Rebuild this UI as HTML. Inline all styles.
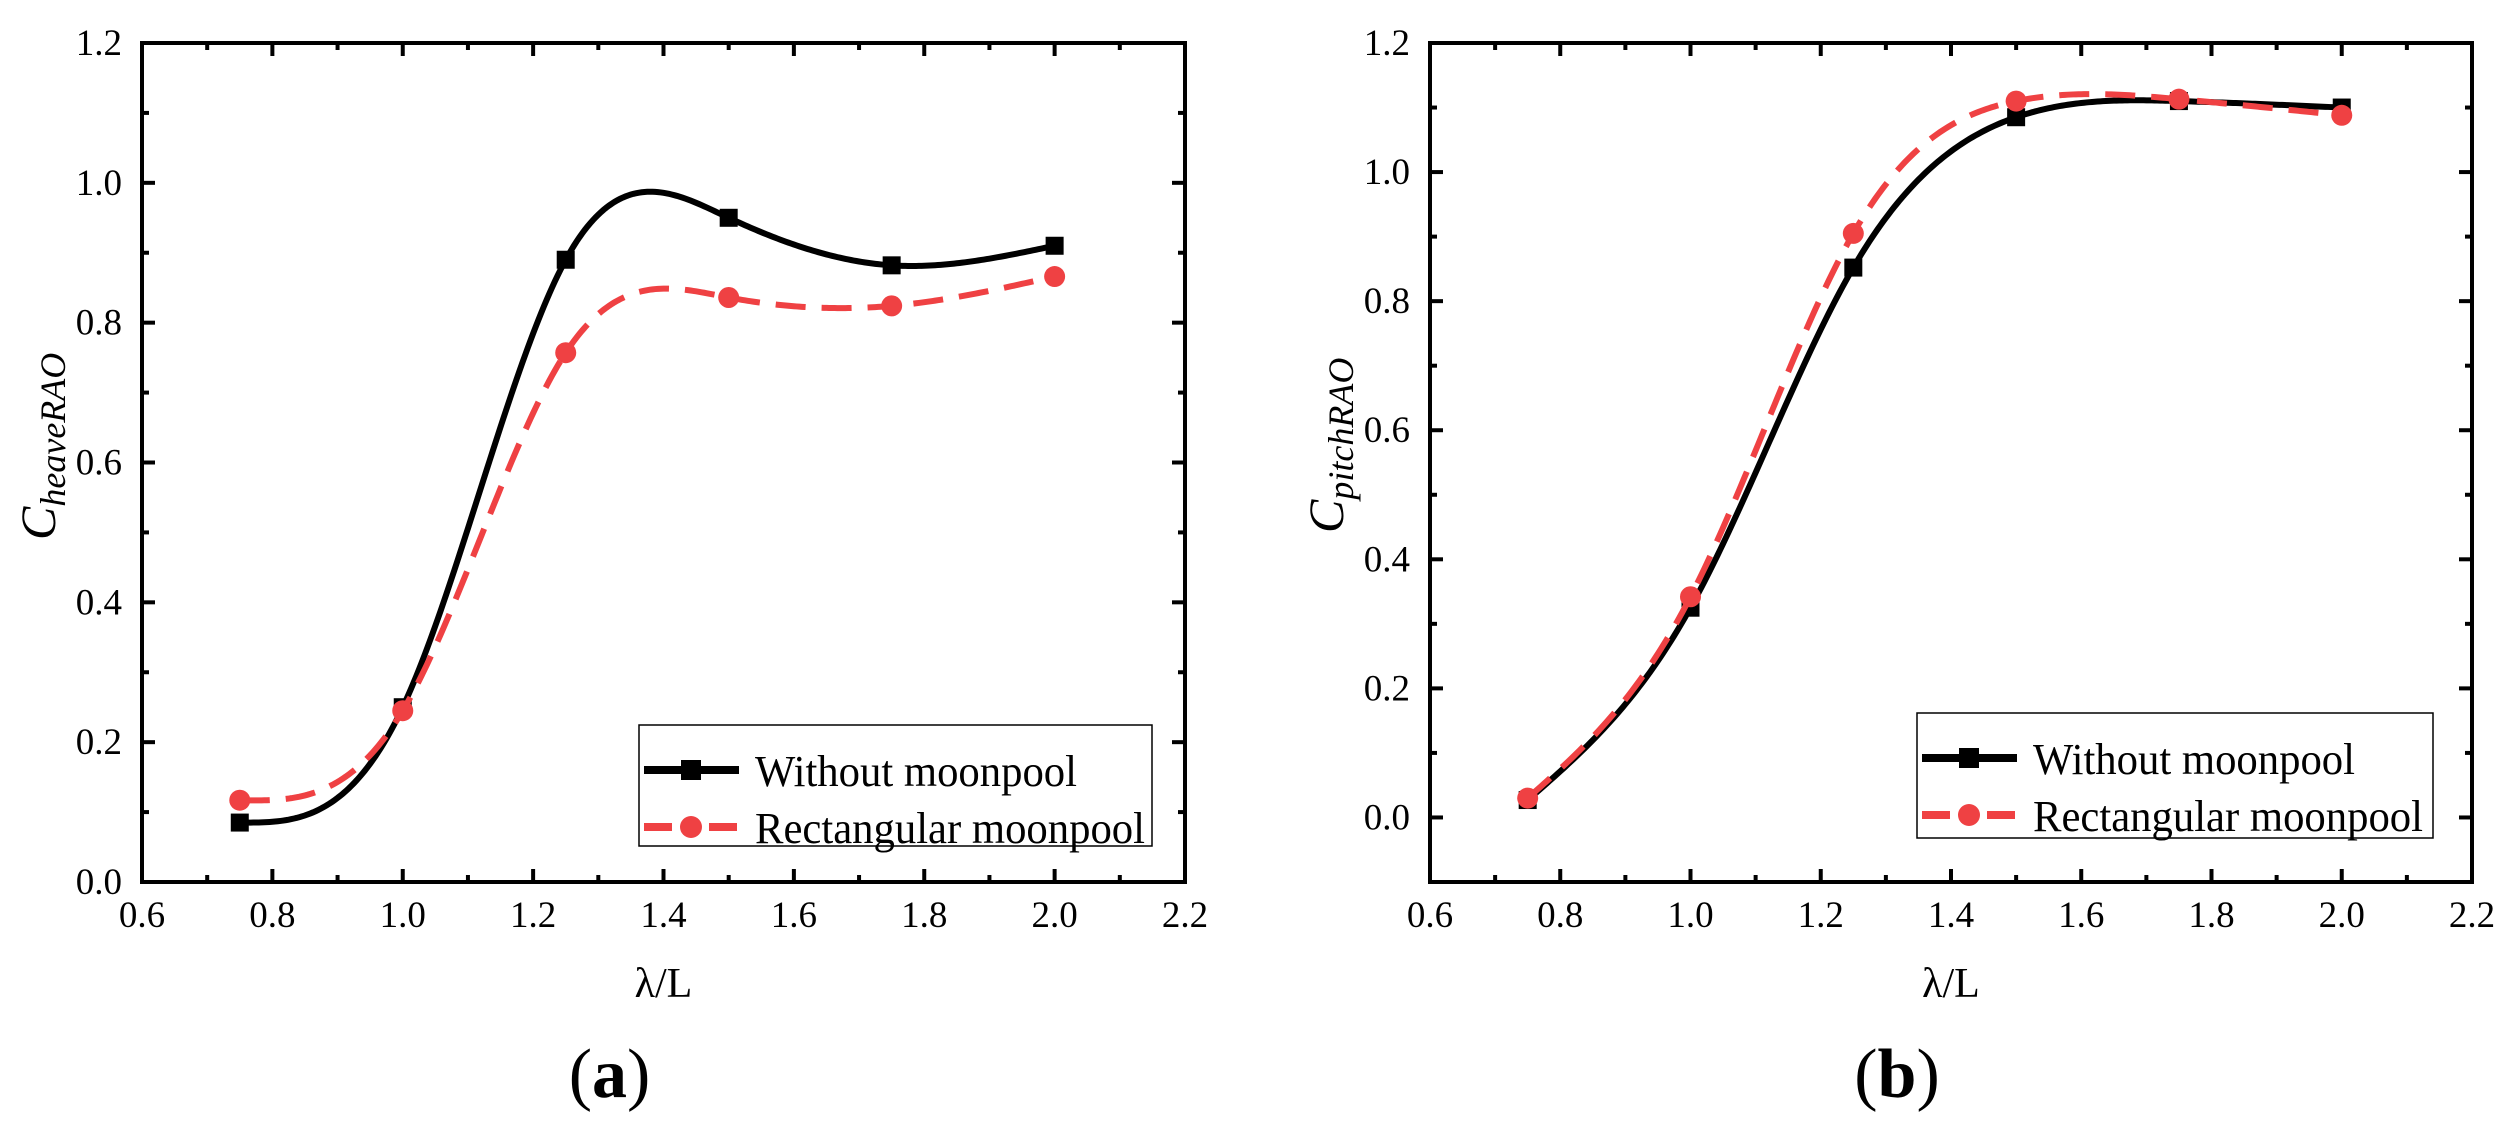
<!DOCTYPE html>
<html><head><meta charset="utf-8"><style>
html,body{margin:0;padding:0;background:#fff;}
svg, svg text{font-family:"Liberation Serif","DejaVu Serif",serif;}
</style></head><body>
<svg id="fig" width="2511" height="1124" viewBox="0 0 2511 1124" xmlns="http://www.w3.org/2000/svg" font-family="Liberation Serif, serif"></svg>
<script>
const xValues = [0.75, 1.0, 1.25, 1.5, 1.75, 2.0];
const heaveWithout = [0.085, 0.25, 0.89, 0.95, 0.882, 0.91];
const heaveRect = [0.117, 0.245, 0.757, 0.836, 0.824, 0.866];
const pitchWithout = [0.027, 0.325, 0.852, 1.085, 1.11, 1.10];
const pitchRect = [0.03, 0.342, 0.905, 1.11, 1.113, 1.088];
const xTicks = [0.6, 0.8, 1.0, 1.2, 1.4, 1.6, 1.8, 2.0, 2.2];
const yTicksA = [0.0, 0.2, 0.4, 0.6, 0.8, 1.0, 1.2];
const yTicksB = [0.0, 0.2, 0.4, 0.6, 0.8, 1.0, 1.2];
const legendLabels = ["Without moonpool", "Rectangular moonpool"];

const NS = "http://www.w3.org/2000/svg";
const svg = document.getElementById('fig');
const RED = "#ef4143";
const FF = '"Liberation Serif", serif';
function mk(tag, attrs, parent){
  const e = document.createElementNS(NS, tag);
  for (const k in attrs) e.setAttribute(k, attrs[k]);
  if (tag === 'text') e.setAttribute('font-family', FF);
  (parent||svg).appendChild(e);
  return e;
}
function spline(xs, ys){
  const n = xs.length, h=[], a=[], l=[1], mu=[0], z=[0], c=new Array(n).fill(0), b=[], d=[];
  for(let i=0;i<n-1;i++) h.push(xs[i+1]-xs[i]);
  for(let i=1;i<n-1;i++) a[i]=3/h[i]*(ys[i+1]-ys[i])-3/h[i-1]*(ys[i]-ys[i-1]);
  for(let i=1;i<n-1;i++){ l[i]=2*(xs[i+1]-xs[i-1])-h[i-1]*mu[i-1]; mu[i]=h[i]/l[i]; z[i]=(a[i]-h[i-1]*z[i-1])/l[i]; }
  l[n-1]=1; z[n-1]=0; c[n-1]=0;
  for(let j=n-2;j>=0;j--){ c[j]=z[j]-mu[j]*c[j+1]; b[j]=(ys[j+1]-ys[j])/h[j]-h[j]*(c[j+1]+2*c[j])/3; d[j]=(c[j+1]-c[j])/(3*h[j]); }
  return function(x){
    let i=0; while(i<n-2 && x>xs[i+1]) i++;
    const t=x-xs[i]; return ys[i]+b[i]*t+c[i]*t*t+d[i]*t*t*t;
  };
}
function panel(o){
  const g = mk('g', {});
  
  
  const X = v => o.L + (v - 0.6) / 1.6 * (o.R - o.L);
  const Y = v => o.B - (v - o.ymin) / (o.ymax - o.ymin) * (o.B - o.T);
  for (let k = 6; k <= 22; k++) {
    const v = k / 10, x = X(v), len = (k % 2 === 0) ? 13 : 7;
    const t1 = mk('line', {x1:x, y1:o.B, x2:x, y2:o.B-len, stroke:'#000','stroke-width':4}, g);
     
    const t2 = mk('line', {x1:x, y1:o.T, x2:x, y2:o.T+len, stroke:'#000','stroke-width':4}, g);
     
  }
  for (let k = Math.round(o.ymin*10); k <= 12; k++) {
    const v = k / 10, y = Y(v), len = (k % 2 === 0) ? 13 : 7;
    const t1 = mk('line', {x1:o.L, y1:y, x2:o.L+len, y2:y, stroke:'#000','stroke-width':4}, g);
     
    const t2 = mk('line', {x1:o.R, y1:y, x2:o.R-len, y2:y, stroke:'#000','stroke-width':4}, g);
     
  }
  const frame = mk('rect', {x:o.L, y:o.T, width:o.R-o.L, height:o.B-o.T, fill:'none', stroke:'#000', 'stroke-width':4}, g);
   
  xTicks.forEach(v => {
    const t = mk('text', {x:X(v), y:o.B+45, 'font-size':37, 'text-anchor':'middle'}, g);
    t.textContent = v.toFixed(1);
     
  });
  o.yTicks.forEach(v => {
    const t = mk('text', {x:o.L-20, y:Y(v)+12, 'font-size':37, 'text-anchor':'end'}, g);
    t.textContent = v.toFixed(1);
     
  });
  const xt = mk('text', {x:(o.L+o.R)/2, y:997, 'font-size':42, 'text-anchor':'middle'}, g);
  xt.textContent = 'λ/L';
   
  const yt = mk('text', {x:0, y:0, 'font-size':50, 'font-style':'italic', transform:`translate(${o.ylx},${o.yly}) rotate(-90)`}, g);
   
  const ts = mk('tspan', {}, yt); ts.textContent = 'C';
  const ts2 = mk('tspan', {'font-size':36, dy:10}, yt); ts2.textContent = o.sub;
  const pl = mk('text', {x:(o.L+o.R)/2-54, y:1097, 'font-size':70, 'text-anchor':'middle'}, g);
   
  const p1 = mk('tspan', {}, pl); p1.textContent='(';
  const p2 = mk('tspan', {'font-weight':'bold'}, pl); p2.textContent=o.letter;
  const p3 = mk('tspan', {}, pl); p3.textContent=')';
  function series(vals, color, dashed, marker, nm){
    const f = spline(xValues, vals);
    let d = '';
    for (let i = 0; i <= 300; i++) {
      const xv = xValues[0] + (xValues[xValues.length-1]-xValues[0]) * i / 300;
      d += (i ? 'L' : 'M') + X(xv).toFixed(2) + ',' + Y(f(xv)).toFixed(2);
    }
    const p = mk('path', {d, fill:'none', stroke:color, 'stroke-width':6, 'stroke-dasharray': dashed ? '30 16' : 'none'}, g);
     
    vals.forEach((v, i) => {
      let m;
      if (marker === 'square') m = mk('rect', {x:X(xValues[i])-9, y:Y(v)-9, width:18, height:18, fill:color}, g);
      else m = mk('circle', {cx:X(xValues[i]), cy:Y(v), r:10.5, fill:color}, g);
       
    });
  }
  series(o.s1, '#000', false, 'square', 'without-moonpool');
  series(o.s2, RED, true, 'circle', 'rectangular-moonpool');
  const lg = mk('g', {}, g);
   
  mk('rect', {x:o.lx, y:o.ly, width:o.lw, height:o.lh, fill:'#fff', stroke:'#000', 'stroke-width':1.5}, lg);
  const r1 = o.ly + 45, r2 = o.ly + 102;
  const e1 = mk('g', {}, lg);
   
  mk('line', {x1:o.lx+5, y1:r1, x2:o.lx+100, y2:r1, stroke:'#000', 'stroke-width':8}, e1);
  mk('rect', {x:o.lx+42, y:r1-10, width:20, height:20, fill:'#000'}, e1);
  const l1 = mk('text', {x:o.lx+116, y:r1+16, 'font-size':44, textLength:322, lengthAdjust:'spacingAndGlyphs'}, e1); l1.textContent = legendLabels[0];
  const e2 = mk('g', {}, lg);
   
  mk('line', {x1:o.lx+5, y1:r2, x2:o.lx+33, y2:r2, stroke:RED, 'stroke-width':8}, e2);
  mk('line', {x1:o.lx+70, y1:r2, x2:o.lx+98, y2:r2, stroke:RED, 'stroke-width':8}, e2);
  mk('circle', {cx:o.lx+52, cy:r2, r:11, fill:RED}, e2);
  const l2 = mk('text', {x:o.lx+116, y:r2+16, 'font-size':44, textLength:390, lengthAdjust:'spacingAndGlyphs'}, e2); l2.textContent = legendLabels[1];
}
panel({name:'panel-a-heave', L:142, R:1185, T:43, B:882, ymin:0, ymax:1.2, yTicks:yTicksA,
  s1:heaveWithout, s2:heaveRect, sub:'heaveRAO', letter:'a', ylx:55, yly:540,
  lx:639, ly:725, lw:513, lh:121});
panel({name:'panel-b-pitch', L:1430, R:2472, T:43, B:882, ymin:-0.1, ymax:1.2, yTicks:yTicksB,
  s1:pitchWithout, s2:pitchRect, sub:'pitchRAO', letter:'b', ylx:1343, yly:533,
  lx:1917, ly:713, lw:516, lh:125});
</script>
</body></html>
